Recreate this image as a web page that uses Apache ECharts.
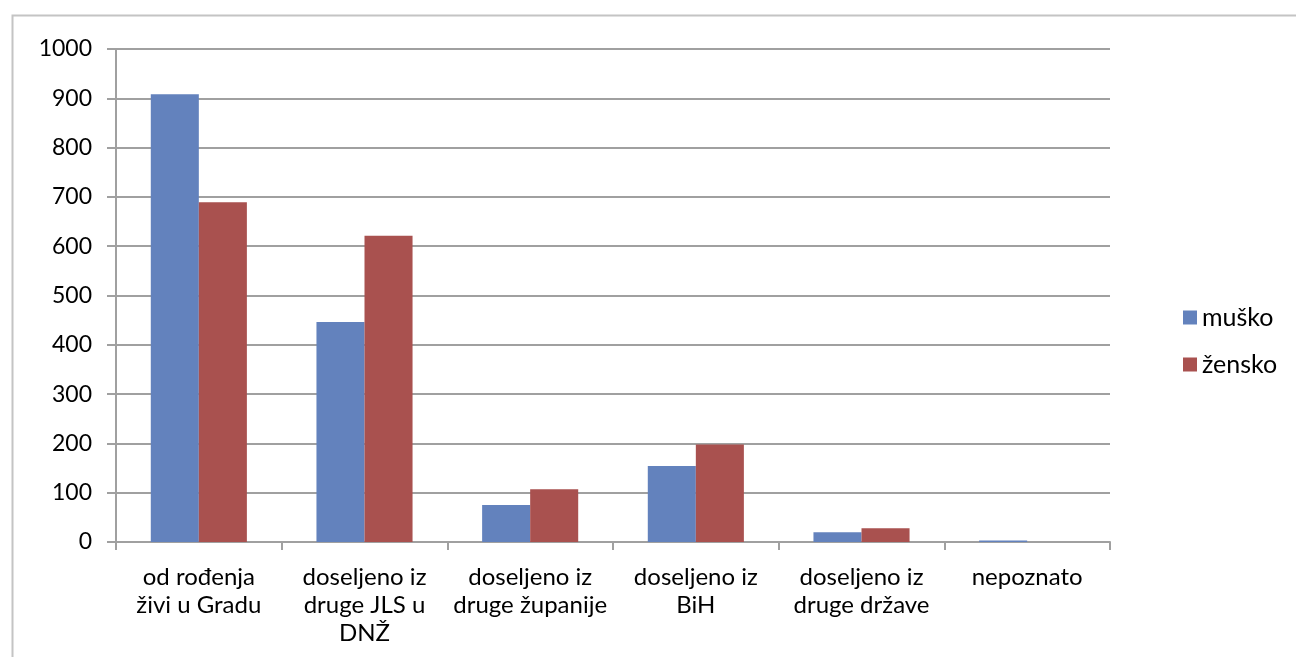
<!DOCTYPE html>
<html>
<head>
<meta charset="utf-8">
<script src="https://cdn.jsdelivr.net/npm/echarts@6/dist/echarts.min.js"></script>
<style>html,body{margin:0;padding:0;background:#fff;}#c{width:1296px;height:657px;}</style>
</head>
<body>
<div id="c"></div>
<script>
const categories = ["od rođenja\nživi u Gradu", "doseljeno iz\ndruge JLS u\nDNŽ", "doseljeno iz\ndruge županije", "doseljeno iz\nBiH", "doseljeno iz\ndruge države", "nepoznato"];
const musko = [908, 446, 75, 154, 20, 3];
const zensko = [689, 621, 107, 198, 28, 0];
const yTicks = { min: 0, max: 1000, interval: 100 };

const chart = echarts.init(document.getElementById('c'));
const font = 'Lato, "Open Sans", sans-serif';
chart.setOption({
  animation: false,
  graphic: [{
    type: 'rect', left: 10, top: 13, silent: true,
    shape: { width: 1300, height: 700 },
    style: { fill: 'none', stroke: '#c4c4c4', lineWidth: 2 }
  }],
  grid: { left: 116, top: 49, width: 994, height: 493, containLabel: false },
  legend: {
    orient: 'vertical', left: 1178, top: 300, itemGap: 22,
    itemWidth: 14, itemHeight: 14, icon: 'rect',
    textStyle: { fontFamily: font, fontSize: 25, color: '#000' },
    data: ['muško', 'žensko']
  },
  xAxis: {
    type: 'category', data: categories,
    axisLine: { lineStyle: { color: '#a0a0a0', width: 2 } },
    axisTick: { show: true, length: 8, lineStyle: { color: '#a0a0a0', width: 2 } },
    axisLabel: { fontFamily: font, fontSize: 24, color: '#000', margin: 21, lineHeight: 28, interval: 0 }
  },
  yAxis: {
    type: 'value', min: yTicks.min, max: yTicks.max, interval: yTicks.interval,
    axisLine: { show: true, lineStyle: { color: '#a0a0a0', width: 2 } },
    axisTick: { show: true, length: 9, lineStyle: { color: '#a0a0a0', width: 2 } },
    splitLine: { lineStyle: { color: '#a0a0a0', width: 2 } },
    axisLabel: { fontFamily: font, fontSize: 23, color: '#000', margin: 24, formatter: v => String(v) }
  },
  series: [
    { name: 'muško', type: 'bar', data: musko, barGap: '0%', barCategoryGap: '42%',
      itemStyle: { color: '#6382BD' } },
    { name: 'žensko', type: 'bar', data: zensko,
      itemStyle: { color: '#A9514F' } }
  ]
});
</script>
</body>
</html>
